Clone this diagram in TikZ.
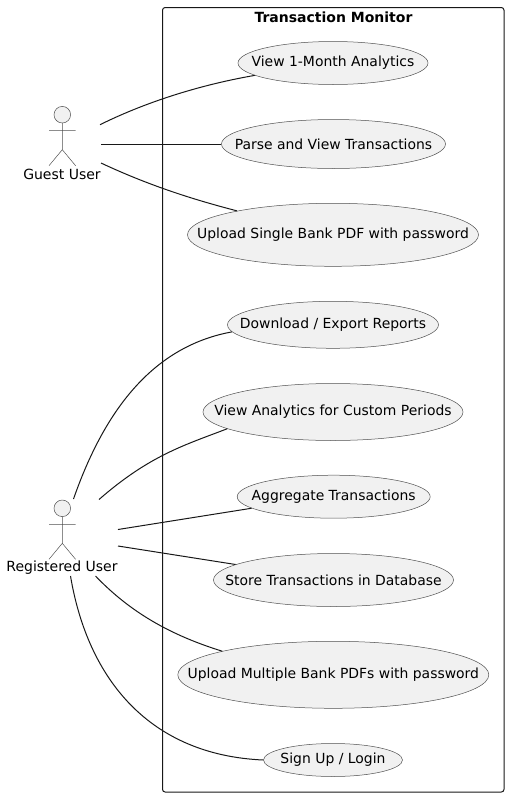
\documentclass[tikz,border=0pt]{standalone}
\usepackage{fontspec}
\setmainfont{DejaVu Sans}
\usetikzlibrary{shapes.geometric}
\definecolor{fillc}{HTML}{F1F1F1}
\definecolor{linec}{HTML}{505050}
\definecolor{framec}{HTML}{181818}
\tikzset{x=0.75pt,y=-0.75pt,
  uctext/.style={font=\fontsize{10.45}{12}\selectfont,text=black},
  conn/.style={draw=framec,line width=0.75pt},
  actorline/.style={draw=linec,line width=0.375pt}}
\newcommand{\ucnode}[6]{\node[ellipse,draw=linec,fill=fillc,line width=0.375pt,inner sep=0pt,minimum width=#4*0.75pt,minimum height=#5*0.75pt,label={[uctext]center:#6}] (#1) at (#2,#3) {};}
\newcommand{\actorfig}[2]{%
 \draw[actorline,fill=fillc] (#1,#2) circle[radius=8.3];
 \draw[actorline] (#1,#2+8.3) -- (#1,#2+35) (#1-13.3,#2+16) -- (#1+13.3,#2+16) (#1,#2+35) -- (#1-13.3,#2+51) (#1,#2+35) -- (#1+13.3,#2+51);
}
\begin{document}
\begin{tikzpicture}
\useasboundingbox (0,0) rectangle (509,797);
\draw[framec,line width=0.75pt,rounded corners=2pt] (162.5,7.5) rectangle (504,792);
\node[font=\bfseries\fontsize{10.5}{12}\selectfont] (title) at (333.5,17) {Transaction Monitor};
\ucnode{a}{333}{63}{190}{43}{View 1-Month Analytics}
\ucnode{b}{333.5}{144}{224}{49}{Parse and View Transactions}
\ucnode{c}{333}{234.8}{291}{63}{Upload Single Bank PDF with password}
\ucnode{d}{333}{324.8}{211}{47}{Download / Export Reports}
\ucnode{e}{333}{412}{260}{57}{View Analytics for Custom Periods}
\ucnode{f}{333.7}{496.7}{193}{43}{Aggregate Transactions}
\ucnode{g}{333.5}{580}{240}{53}{Store Transactions in Database}
\ucnode{h}{333.3}{674.8}{311}{67}{Upload Multiple Bank PDFs with password}
\ucnode{i}{333}{760}{139}{33}{Sign Up / Login}
\actorfig{62.3}{114.7}
\actorfig{62.3}{508.3}
\node[font=\fontsize{10.5}{12}\selectfont] (gl) at (62,174) {Guest User};
\node[font=\fontsize{10.5}{12}\selectfont] (rl) at (62,568) {Registered User};
\coordinate (g1) at (100,124.7);
\coordinate (g2) at (101,144);
\coordinate (g3) at (101,163);
\coordinate (r1) at (73.5,499);
\coordinate (r2) at (99,499.5);
\coordinate (r3) at (118,529.5);
\coordinate (r4) at (118,546);
\coordinate (r5) at (95.5,576);
\coordinate (r6) at (70.5,576);
\draw[conn] (g1) .. controls (150,100) and (205,84) .. (a.189);
\draw[conn] (g2) -- (b.west);
\draw[conn] (g3) .. controls (150,186) and (195,200) .. (c.166);
\draw[conn] (r1) .. controls (108,400) and (160,345) .. (d.184.5);
\draw[conn] (r2) .. controls (150,455) and (185,445) .. (e.189.5);
\draw[conn] (r3) -- (f.188.8);
\draw[conn] (r4) -- (g.171);
\draw[conn] (r5) .. controls (130,612) and (170,635) .. (h.168);
\draw[conn] (r6) .. controls (88,680) and (150,755) .. (i.west);
\end{tikzpicture}
\end{document}
